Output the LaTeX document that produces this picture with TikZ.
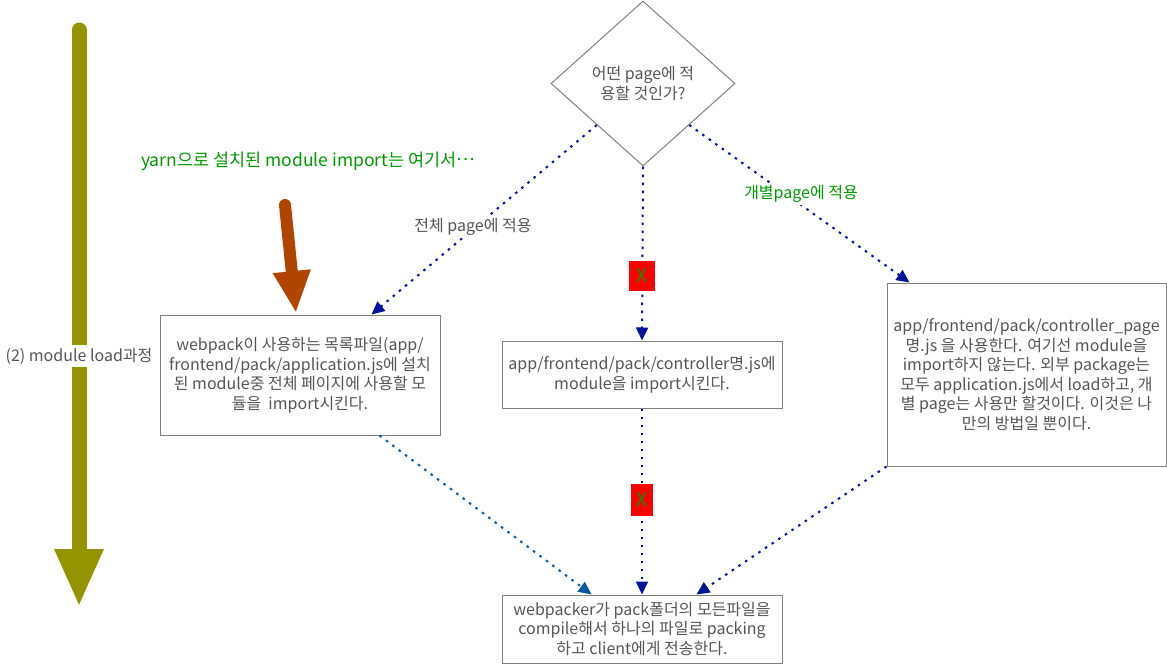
\documentclass[tikz,border=0pt]{standalone}
\usepackage{fontspec}
\setmainfont{Noto Sans CJK KR}
\usetikzlibrary{shapes.geometric,arrows.meta,calc}
\definecolor{txtgray}{HTML}{555555}
\definecolor{boxgray}{HTML}{808080}
\definecolor{navyline}{HTML}{001499}
\definecolor{blueline}{HTML}{005A9E}
\definecolor{olivebar}{HTML}{949400}
\definecolor{rustbar}{HTML}{B04500}
\definecolor{labelgreen}{HTML}{009900}
\begin{document}
\begin{tikzpicture}[x=1pt,y=-1pt,
  body/.style={font=\fontsize{16}{19.5}\selectfont, text=txtgray, align=center},
  procbox/.style={body, draw=boxgray, line width=1pt, inner sep=0pt},
  decision/.style={body, diamond, draw=boxgray, line width=1pt, inner sep=0pt, minimum width=184pt, minimum height=165pt},
  flow/.style={draw=navyline, line width=2pt, dash pattern=on 2.5pt off 5.5pt, -{Triangle[length=13pt,width=12pt]}},
  flowb/.style={flow, draw=blueline},
  xmark/.style={fill=red, text=labelgreen, font=\fontsize{19}{20}\selectfont, inner sep=0pt},
  edgelabel/.style={body, fill=white, inner sep=2pt}
]
\useasboundingbox (0,0) rectangle (1167,664);

% big olive arrow
\coordinate (o1) at (79,30);
\coordinate (o2) at (79,607);
\draw[olivebar, line width=15pt, line cap=round, -{Triangle[length=58pt,width=45pt]}] (o1) -- (o2);
\node[body, fill=white, inner sep=3pt] (olab) at (79,356) {(2) module load과정};

% nodes
\node[decision] (d) at (643,83.5) {어떤 page에 적\\용할 것인가?};
\node[procbox, minimum width=280pt, minimum height=120pt] (b1) at (300,375)
  {webpack이 사용하는 목록파일(app/\\frontend/pack/application.js에 설치\\된 module중 전체 페이지에 사용할 모\\듈을 \ import시킨다.};
\node[procbox, minimum width=280pt, minimum height=67pt] (b2) at (642,374.5)
  {app/frontend/pack/controller명.js에\\module을 import시킨다.};
\node[procbox, minimum width=279pt, minimum height=183pt] (b3) at (1026.5,374.5)
  {app/frontend/pack/controller\_page\\명.js 을 사용한다. 여기선 module을\\import하지 않는다. 외부 package는\\모두 application.js에서 load하고, 개\\별 page는 사용만 할것이다. 이것은 나\\만의 방법일 뿐이다.};
\node[procbox, minimum width=280pt, minimum height=68pt] (b4) at (642,629)
  {webpacker가 pack폴더의 모든파일을\\compile해서 하나의 파일로 packing\\하고 client에게 전송한다.};

% green note and rust arrow
\node[font=\fontsize{17.5}{20}\selectfont, text=labelgreen] (note) at (308,161) {yarn으로 설치된 module import는 여기서\raisebox{0.3em}{…}};
\coordinate (r1) at (285,205);
\coordinate (r2) at (296,313);
\draw[rustbar, line width=12pt, line cap=round, -{Triangle[length=42pt,width=35pt]}] (r1) -- (r2);

% connectors
\draw[flow] (d.south west) -- ($(b1.north west)+(212,0)$);
\node[edgelabel] (l1) at (473,227) {전체 page에 적용};
\draw[flow] (d.south) -- (b2.north);
\node[xmark, minimum width=26pt, minimum height=30pt] (x1) at (642,275.5) {X};
\draw[flow] (d.south east) -- ($(b3.north west)+(23,0)$);
\node[edgelabel, text=labelgreen] (l2) at (801,194) {개별page에 적용};

\draw[flowb] ($(b1.south west)+(220,0)$) -- ($(b4.north west)+(90,0)$);
\draw[flow] (b2.south) -- (b4.north);
\node[xmark, minimum width=22pt, minimum height=32pt] (x2) at (642,499.5) {X};
\draw[flow] (b3.south west) -- ($(b4.north west)+(195,0)$);
\end{tikzpicture}
\end{document}
